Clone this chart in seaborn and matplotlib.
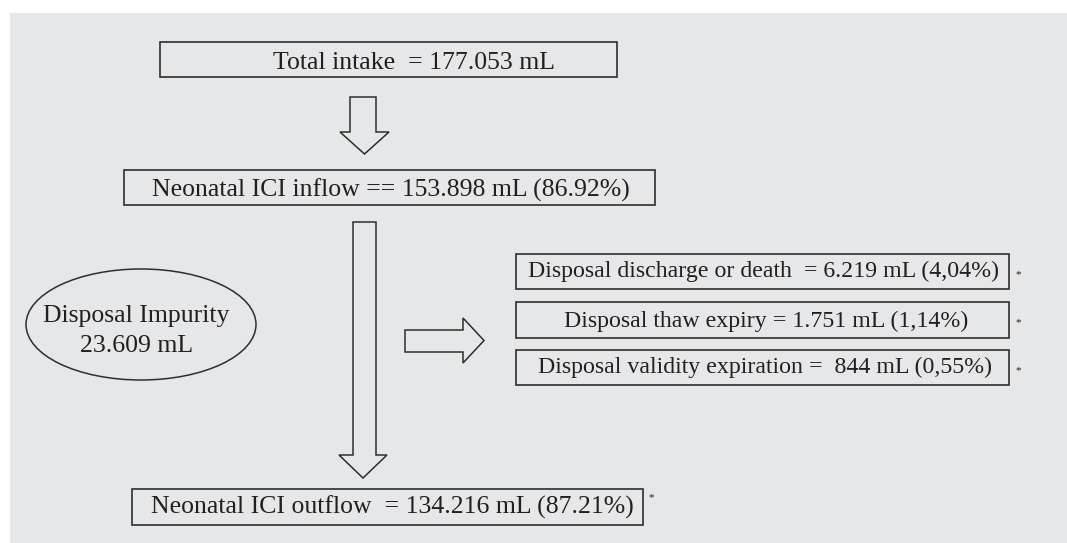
import matplotlib
matplotlib.use("Agg")
import matplotlib.pyplot as plt
from matplotlib.patches import Rectangle, Ellipse, Polygon
import seaborn as sns

# ---------------------------------
# Flow values (text shown in the chart)
# ---------------------------------
main_labels = [
    "Total intake  = 177.053 mL",
    "Neonatal ICI inflow == 153.898 mL (86.92%)",
    "Neonatal ICI outflow  = 134.216 mL (87.21%)",
]
disposal_labels = [
    "Disposal discharge or death  = 6.219 mL (4,04%)",
    "Disposal thaw expiry = 1.751 mL (1,14%)",
    "Disposal validity expiration =  844 mL (0,55%)",
]
impurity_label = ["Disposal Impurity", "23.609 mL"]
main_marks = ["", "", "*"]
disposal_marks = ["*", "*", "*"]

# ---------------------------------
# Style
# ---------------------------------
sns.set_style("white")
plt.rcParams["font.family"] = ["Liberation Serif", "DejaVu Serif"]

BG = "#e6e7e8"
EDGE = "#2e2e2e"
TXT = "#231f20"
FS = 18.5
FS_SIDE = 17.2

fig = plt.figure(figsize=(10.67, 5.43), dpi=100)
ax = fig.add_axes([0, 0, 1, 1])
ax.set_xlim(0, 1067)
ax.set_ylim(543, 0)
ax.axis("off")

# grey panel
ax.add_patch(Rectangle((10, 13), 1057, 530, facecolor=BG, edgecolor="none"))


def box(x0, y0, x1, y1):
    ax.add_patch(Rectangle((x0, y0), x1 - x0, y1 - y0, facecolor=BG,
                           edgecolor=EDGE, linewidth=1.2))


def arrow_down(xl, xr, top, base, hl, hr, tip):
    xm = (hl + hr) / 2
    pts = [(xl, top), (xr, top), (xr, base), (hr, base), (xm, tip),
           (hl, base), (xl, base)]
    ax.add_patch(Polygon(pts, closed=True, facecolor=BG, edgecolor=EDGE,
                         linewidth=1.1))


def arrow_right(left, base, tip, yt, yb, ht, hb):
    ym = (ht + hb) / 2
    pts = [(left, yt), (base, yt), (base, ht), (tip, ym), (base, hb),
           (base, yb), (left, yb)]
    ax.add_patch(Polygon(pts, closed=True, facecolor=BG, edgecolor=EDGE,
                         linewidth=1.1))


# main column boxes
main_boxes = [(160, 42, 617, 77), (124, 170, 655, 205), (132, 489, 643, 525)]
main_text_x = [414, 391, 392]
main_base_y = [69, 197, 514]
for (x0, y0, x1, y1), lab, tx, ty, mk in zip(main_boxes, main_labels,
                                              main_text_x, main_base_y,
                                              main_marks):
    box(x0, y0, x1, y1)
    ax.text(tx, ty, lab, ha="center", va="baseline", fontsize=FS, color=TXT)
    if mk:
        ax.text(x1 + 5, y0 + 9, mk, ha="left", va="center", fontsize=8,
                color=TXT)

# disposal boxes on the right
side_boxes = [(516, 254, 1009, 289), (516, 302, 1009, 338),
              (516, 350, 1009, 385)]
side_text_x = [764, 766, 765]
side_base_y = [277, 327, 373]
for (x0, y0, x1, y1), lab, tx, ty, mk in zip(side_boxes, disposal_labels,
                                             side_text_x, side_base_y,
                                             disposal_marks):
    box(x0, y0, x1, y1)
    ax.text(tx, ty, lab, ha="center", va="baseline", fontsize=FS_SIDE,
            color=TXT)
    ax.text(x1 + 6, y0 + 21, mk, ha="left", va="center", fontsize=8,
            color=TXT)

# arrows
arrow_down(350, 376, 97, 132, 340, 389, 154)
arrow_down(353, 376, 222, 455, 339, 387, 478)
arrow_right(405, 463, 484, 330, 352, 318, 363)

# impurity ellipse
ax.add_patch(Ellipse((141, 324.5), 230, 111, facecolor=BG, edgecolor=EDGE,
                     linewidth=1.1))
ax.text(136, 322, impurity_label[0], ha="center", va="baseline",
        fontsize=FS, color=TXT)
ax.text(137, 352, impurity_label[1], ha="center", va="baseline",
        fontsize=FS, color=TXT)

fig.savefig("out.png", dpi=100, facecolor="white")
plt.close(fig)
